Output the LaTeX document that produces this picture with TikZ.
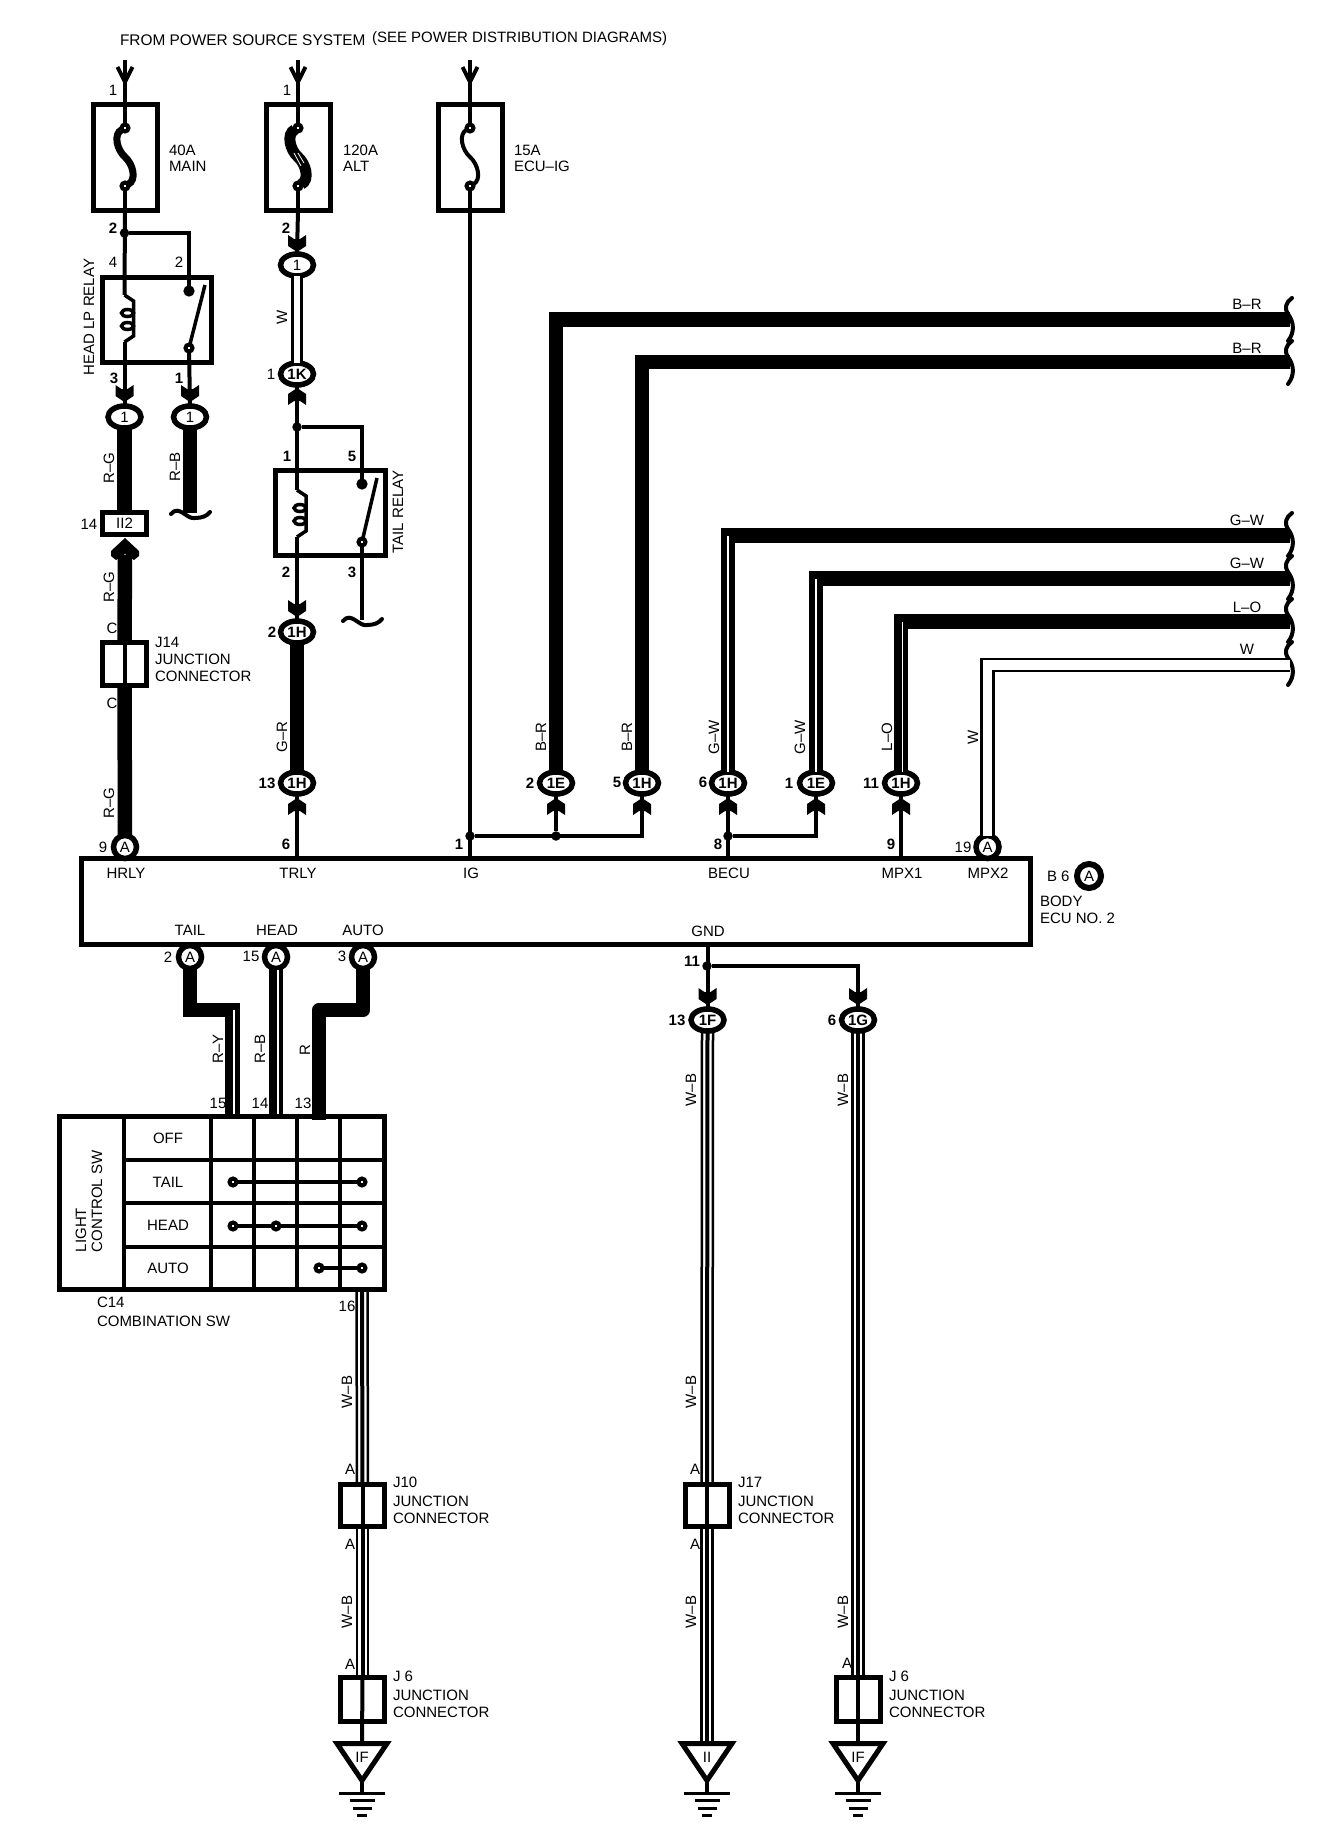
\documentclass[tikz,border=0pt]{standalone}
\usepackage{fontspec}
\setmainfont{Liberation Sans}
\usetikzlibrary{shapes.geometric,calc}

\newcommand{\labfont}{\fontsize{15}{16.5}\selectfont}

\tikzset{
  every node/.style={font=\labfont, inner sep=0pt, outer sep=0pt},
  wire/.style={line width=4pt},
  thinwire/.style={line width=3.5pt},
  bigwire/.style={line width=14.5pt},
  stripe/.style={line width=1.2pt, white},
  pairwire/.style={line width=2.5pt, double, double distance=9.5pt},
  box/.style={draw, line width=5pt, minimum width=#1},
  box/.default=44pt,
  fusebox/.style={box=64pt, minimum height=106pt},
  relaybox/.style={box=109pt, minimum height=85pt},
  jbox/.style={box=44pt, minimum height=43pt},
  oval/.style={ellipse, draw, fill=white, line width=5.5pt, minimum width=33pt, minimum height=22pt},
  conn/.style={oval, font=\labfont\bfseries},
  pinA/.style={circle, draw, fill=white, line width=5.5pt, minimum size=23pt},
  term/.style={circle, draw, fill=white, line width=4pt, minimum size=7pt},
  dot/.style={circle, fill, minimum size=9.5pt},
  pinb/.style={font=\labfont\bfseries},
  vlab/.style={rotate=90},
  note/.style={anchor=north west, align=left},
  chev/.pic={
    \fill (-9,0) -- (-3,4) -- (3,4) -- (9,0) -- (9,11) -- (0,17) -- (-9,11) -- cycle;
  },
  bigchev/.pic={
    \fill (0,0) -- (14,13) -- (14,18) -- (9,22) -- (0,16) -- (-9,22) -- (-14,18) -- (-14,13) -- cycle;
  },
  feed/.pic={
    \draw[wire] (-7.5,7) -- (0,22) -- (7.5,7);
  },
  wavyend/.pic={
    \draw[wire, line cap=round] (-19,1) .. controls (-11,-9) and (-3,7) .. (5,5) .. controls (12,5) and (17,3) .. (20,-1);
  },
  brokenend/.pic={
    \draw[wire, line cap=round] (0,0) .. controls (-6,4) and (-8,10) .. (-4,16) .. controls (2,24) and (3,34) .. (-4,43);
  },
  coilsym/.pic={
    \coordinate (-in) at (0,0);
    \coordinate (-out) at (0,47);
    \draw[thinwire] (0,0) -- (9,6) -- (9,41) -- (0,47);
    \draw[line width=3.5pt] (3,18) ellipse (6 and 3.5);
    \draw[line width=3.5pt] (3,31) ellipse (6 and 3.5);
  },
  gndsym/.pic={
    \coordinate (-top) at (0,0);
    \draw[line width=5pt] (-25,0) -- (25,0) -- (0,37) -- cycle;
    \draw[wire] (0,37) -- (0,49.5);
    \draw[line width=3pt] (-23,49.5) -- (23,49.5);
    \draw[line width=3pt] (-12.5,56.5) -- (12.5,56.5);
    \draw[line width=3pt] (-9.5,64.5) -- (9.5,64.5);
    \draw[line width=3pt] (-5,71.5) -- (5,71.5);
  }
}

\newcommand{\fuselink}[3]{
  \draw[line width=#3] (#1) .. controls +(-12,6) and +(-8,-7) .. ($(#1)!.5!(#2)$) .. controls +(8,7) and +(12,-6) .. (#2);
}
\newcommand{\triplewire}[2]{
  \draw[line width=2.5pt] ([xshift=-5.5pt]#1) -- ([xshift=-5.5pt]#2);
  \draw[wire] (#1) -- (#2);
  \draw[line width=2.5pt] ([xshift=5.5pt]#1) -- ([xshift=5.5pt]#2);
}

\begin{document}
\begin{tikzpicture}[x=1pt, y=-1pt]
  \useasboundingbox (0,0) rectangle (1328,1838);

  \node[anchor=west, font=\fontsize{15.4}{15.4}\selectfont] (title) at (120,40) {FROM POWER SOURCE SYSTEM};
  \node[anchor=west] (titlesee) at (372,39) {(SEE POWER DISTRIBUTION DIAGRAMS)};

  % fuses
  \foreach \name/\x in {Main/125, Alt/298, Ecu/470} {
    \node[fusebox] (fuse\name) at (\x,157.5) {};
    \node[term] (fuse\name A) at (\x,128) {};
    \node[term] (fuse\name B) at (\x,186) {};
    \coordinate (in\name) at (\x,60);
    \pic at (in\name) {feed};
    \draw[wire] (in\name) -- (fuse\name A);
    \draw[wire] (fuse\name B) -- (fuse\name.south);
  }
  \fuselink{fuseMainA}{fuseMainB}{7pt}
  \fuselink{fuseAltA}{fuseAltB}{11pt}
  \fuselink{fuseEcuA}{fuseEcuB}{4pt}
  \draw[stripe, line width=.8pt] (294,153) -- (301,166);
  \draw[stripe, line width=.8pt] (298,153) -- (304,163);

  \node[note] (noteMain) at (169,145) {40A\\MAIN};
  \node[note] (noteAlt) at (343,145) {120A\\ALT};
  \node[note] (noteEcu) at (514,145) {15A\\ECU--IG};

  % head relay
  \node[dot] (dotHead) at (124.5,233) {};
  \node[relaybox] (relayHead) at (156.5,319.5) {};
  \node[term, fill=black] (contactHeadA) at (189,291) {};
  \node[term] (contactHeadB) at (189,348) {};
  \coordinate (armHead) at (205,285);
  \pic (coilHead) at (124.5,295) {coilsym};
  \node[vlab] (lblHeadRelay) at (89,317) {HEAD LP RELAY};
  \node[oval] (connA) at (124.5,417) {1};
  \node[oval] (connB) at (190,417) {1};
  \pic at (124.5,385) {chev};
  \pic at (190,385) {chev};
  \draw[wire] (fuseMain.south) -- (coilHead-in);
  \draw[wire] (dotHead) -| (contactHeadA);
  \draw[wire] (coilHead-out) -- (connA.north);
  \draw[wire] (contactHeadB) -- (connB.north);
  \draw[thinwire] (contactHeadB) -- (armHead);

  % tail relay
  \node[oval] (connAlt) at (297,265) {1};
  \node[conn] (conn1K) at (297,374) {1K};
  \node[dot] (dotTail) at (297,427) {};
  \node[relaybox, minimum width=110pt] (relayTail) at (330,512.5) {};
  \node[term, fill=black] (contactTailA) at (362,484) {};
  \node[term] (contactTailB) at (362,542) {};
  \coordinate (armTail) at (377,478);
  \coordinate (endTail) at (362,620);
  \pic (coilTail) at (297,490) {coilsym};
  \pic at (endTail) {wavyend};
  \node[vlab] (lblTailRelay) at (398,512) {TAIL RELAY};
  \node[conn] (connG) at (297,632) {1H};
  \node[conn] (connH) at (297,783) {1H};
  \pic at (297,235) {chev};
  \pic[yscale=-1] at (297,405) {chev};
  \pic at (297,600) {chev};
  \pic[yscale=-1] at (297,815) {chev};
  \draw[wire] (fuseAlt.south) -- (connAlt.north);
  \draw[line width=2.5pt, double, double distance=6.5pt] (connAlt.south) -- (conn1K.north);
  \draw[wire] (conn1K.south) -- (coilTail-in);
  \draw[wire] (dotTail) -| (contactTailA);
  \draw[wire] (coilTail-out) -- (connG.north);
  \draw[wire] (contactTailB) -- (endTail);
  \draw[thinwire] (contactTailB) -- (armTail);
  \draw[bigwire] (connG.south) -- (connH.north);

  % body ecu
  \node[box=949pt, minimum height=86pt] (ecu) at (556,901.5) {};
  \node[pinA] (aHrly) at (125,847) {A};
  \node[pinA] (aMpx) at (987.5,847) {A};
  \node[pinA] (aTail) at (190,957) {A};
  \node[pinA] (aHead) at (276,957) {A};
  \node[pinA] (aAuto) at (363,957) {A};
  \node[pinA, line width=6pt, minimum size=24pt] (aBody) at (1089,876) {A};
  \node[anchor=west] (lblB6) at (1047,876) {B 6};
  \node[note] (lblBody) at (1040,896.5) {BODY\\ECU NO. 2};
  \foreach \name/\x/\y/\txt in {lHrly/126/873/HRLY, lTrly/298/873/TRLY, lIg/471/873/IG, lBecu/729/873/BECU,
      lMpxa/902/873/MPX1, lMpxb/988/873/MPX2, lTail/190/930/TAIL, lHead/277/930/HEAD, lAuto/363/930/AUTO, lGnd/708/931/GND} {
    \node (\name) at (\x,\y) {\txt};
  }
  \draw[wire] (connH.south) -- (connH.south |- ecu.north);
  \draw[wire] (fuseEcu.south) -- (fuseEcu.south |- ecu.north);

  % wires to the right
  \foreach \name/\x/\txt in {cE/556/1E, cHa/642/1H, cHb/728/1H, cEb/816/1E, cHc/901/1H} {
    \node[conn] (\name) at (\x,783) {\txt};
    \pic[yscale=-1] at (\x,815) {chev};
  }
  \foreach \name/\y in {endA/319.5, endB/362, endC/535.5, endD/578.5, endE/621.5, endF/665} {
    \coordinate (\name) at (1290,\y);
  }
  \foreach \y in {298,341,513,556,599,642} {
    \pic at (1292,\y) {brokenend};
  }
  \draw[bigwire] (cE.north) |- (endA);
  \draw[bigwire] (cHa.north) |- (endB);
  \draw[bigwire] (cHb.north) |- (endC);
  \draw[bigwire] (cEb.north) |- (endD);
  \draw[bigwire] (cHc.north) |- (endE);
  \draw[pairwire] (aMpx.north) |- (endF);
  \draw[stripe] (cHb.north) -- (cHb.north |- endC);
  \draw[stripe] (cEb.north) -- (cEb.north |- endD);
  \draw[stripe] ([xshift=1.5pt]cHc.north) -- ([xshift=1.5pt]cHc.north |- endE);

  \node[dot] (dotIg) at (470,836) {};
  \node[dot] (dotBus) at (556,836) {};
  \node[dot] (dotBecu) at (728,836) {};
  \draw[wire] (dotIg) -| (cHa.south);
  \draw[wire] (dotBus) -- (cE.south);
  \draw[wire] (cHb.south) -- (cHb.south |- ecu.north);
  \draw[wire] (dotBecu) -| (cEb.south);
  \draw[wire] (cHc.south) -- (cHc.south |- ecu.north);

  \foreach \name/\x/\y/\txt in {bB/1247/304/B--R, bC/1247/348/B--R, bD/1247/520/G--W, bE/1247/563/G--W, bF/1247/607/L--O, bG/1247/649/W} {
    \node (\name) at (\x,\y) {\txt};
  }

  % left harness
  \node[box, minimum height=22pt] (boxII) at (124.5,523.5) {II2};
  \node[jbox] (jA) at (124.5,664) {};
  \coordinate (endRB) at (190,513);
  \coordinate (arrowRG) at (125,555);
  \pic at (endRB) {wavyend};
  \pic at (125,538) {bigchev};
  \draw[bigwire] (connA.south) -- (boxII.north);
  \draw[bigwire] (connB.south) -- (endRB);
  \draw[bigwire] (arrowRG) -- (jA.north);
  \draw[wire] (jA.north) -- (jA.south);
  \draw[bigwire] (jA.south) -- (aHrly.north);
  \node[note] (noteJa) at (155,637.5) {J14\\[.5pt]JUNCTION\\CONNECTOR};

  \foreach \name/\x/\y/\txt in {vA/109/468/R--G, vB/175/467/R--B, vC/109/587/R--G, vD/109/803/R--G, vE/282/317/W, vF/282/737/G--R,
      vG/541/737/B--R, vH/627/737/B--R, vI/714/737/G--W, vJ/800/737/G--W, vK/887/737/L--O, vL/973/737/W,
      vM/218/1049/R--Y, vN/260/1049/R--B, vO/305/1050/R,
      vP/347/1392/W--B, vQ/347/1612/W--B, vR/691/1090/W--B, vS/691/1392/W--B, vT/691/1612/W--B, vU/843/1090/W--B, vV/843/1612/W--B} {
    \node[vlab] (\name) at (\x,\y) {\txt};
  }

  \foreach \name/\x/\y/\txt in {nA/113/90/1, nB/287/90/1, nC/113/262/4, nD/179/262/2, nE/271/374/1, nF/89/524/14,
      nG/103/847/9, nH/168/957/2, nI/251/956/15, nJ/342/956/3, nK/963/847/19, nL/218/1103/15, nM/260/1103/14, nN/303/1103/13, nO/347/1306/16} {
    \node (\name) at (\x,\y) {\txt};
  }
  \foreach \name/\x/\y/\txt in {mA/113/228/2, mB/286/228/2, mC/114/378/3, mD/179/378/1, mE/287/456/1, mF/352/456/5,
      mG/286/572/2, mH/352/572/3, mI/272/632/2, mJ/267/783/13, mK/286/844/6, mL/459/844/1, mM/530/783/2, mN/617/782/5, mO/703/782/6,
      mP/789/783/1, mQ/871/783/11, mR/718/844/8, mS/891/844/9, mT/692/961/11, mU/677/1020/13, mV/832/1020/6} {
    \node[pinb] (\name) at (\x,\y) {\txt};
  }
  \foreach \name/\x/\y in {cA/112/628, cB/112/703} {
    \node (\name) at (\x,\y) {C};
  }
  \foreach \name/\x/\y in {jaA/350/1469, jaB/350/1544, jaC/350/1664, jaD/695/1469, jaE/695/1544, jaF/847/1663} {
    \node (\name) at (\x,\y) {A};
  }

  % combination switch
  \node[box=325pt, minimum height=173pt] (sw) at (222,1203) {};
  \foreach \x in {124,211,254,297,340} {
    \draw[wire] (\x,1116.5) -- (\x,1289.5);
  }
  \foreach \y in {1160,1203,1247} {
    \draw[wire] (124,\y) -- (384.5,\y);
  }
  \foreach \name/\y/\txt in {rowOff/1138/OFF, rowTail/1182/TAIL, rowHead/1225/HEAD, rowAuto/1268/AUTO} {
    \node (\name) at (168,\y) {\txt};
  }
  \node[rotate=90, anchor=west] (lblLight) at (81,1252) {LIGHT};
  \node[rotate=90, anchor=west] (lblControl) at (97,1252) {CONTROL SW};
  \node[note] (lblCombo) at (97,1297.5) {C14\\[2.5pt]COMBINATION SW};

  \node[term] (tailA) at (233,1182) {};
  \node[term] (tailB) at (362,1182) {};
  \node[term] (headA) at (233,1226) {};
  \node[term] (headB) at (276,1226) {};
  \node[term] (headC) at (362,1226) {};
  \node[term] (autoA) at (319,1268) {};
  \node[term] (autoB) at (362,1268) {};
  \draw[thinwire] (tailA) -- (tailB);
  \draw[thinwire] (headA) -- (headB);
  \draw[thinwire] (headB) -- (headC);
  \draw[thinwire] (autoA) -- (autoB);

  \coordinate (kneeTail) at (232.5,1010);
  \coordinate (swTail) at (232.5,1114);
  \coordinate (kneeAuto) at (319,1010);
  \coordinate (swAuto) at (319,1120);
  \draw[bigwire] (aTail.south) |- (kneeTail) -- (swTail);
  \draw[bigwire] (aHead.south) -- (aHead.south |- swTail);
  \draw[bigwire, line join=round] (aAuto.south) |- (kneeAuto) -- (swAuto);
  \draw[stripe] (234,1010) -- (234,1114);
  \draw[stripe] (278,970) -- (278,1114);

  % junction connectors and grounds
  \node[jbox, minimum height=42pt] (jTen) at (362.5,1505.5) {};
  \node[jbox, minimum height=44pt] (jSixA) at (362.5,1699.5) {};
  \node[jbox, minimum height=42pt] (jSeven) at (707,1505.5) {};
  \node[jbox, minimum height=44pt] (jSixB) at (858,1699.5) {};
  \node[note] (noteTen) at (393,1477.5) {J10\\[2.5pt]JUNCTION\\CONNECTOR};
  \node[note] (noteSixA) at (393,1671.5) {J 6\\[2.5pt]JUNCTION\\CONNECTOR};
  \node[note] (noteSeven) at (738,1477.5) {J17\\[2.5pt]JUNCTION\\CONNECTOR};
  \node[note] (noteSixB) at (889,1671.5) {J 6\\[2.5pt]JUNCTION\\CONNECTOR};

  \coordinate (swOut) at (362,1291.5);
  \pic (gndA) at (362,1743.5) {gndsym};
  \pic (gndB) at (707,1743.5) {gndsym};
  \pic (gndC) at (858,1743.5) {gndsym};
  \node (txtA) at (362,1757) {IF};
  \node (txtB) at (707,1757) {II};
  \node (txtC) at (858,1757) {IF};

  \node[dot] (dotGnd) at (707,966) {};
  \node[conn] (conn1F) at (707.5,1020) {1F};
  \node[conn] (conn1G) at (858,1020) {1G};
  \pic at (707.5,988) {chev};
  \pic at (858,988) {chev};
  \draw[wire] (ecu.south -| conn1F) -- (conn1F.north);
  \draw[wire] (dotGnd) -| (conn1G.north);

  \triplewire{swOut}{jTen.north}
  \draw[wire] (jTen.north) -- (jTen.south);
  \triplewire{jTen.south}{jSixA.north}
  \draw[wire] (jSixA.north) -- (gndA-top);
  \triplewire{conn1F.south}{jSeven.north}
  \draw[wire] (jSeven.north) -- (jSeven.south);
  \triplewire{jSeven.south}{gndB-top}
  \triplewire{conn1G.south}{jSixB.north}
  \draw[wire] (jSixB.north) -- (gndC-top);
\end{tikzpicture}
\end{document}
